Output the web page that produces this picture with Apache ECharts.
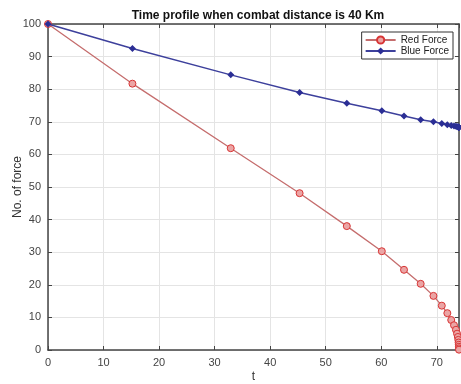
<!DOCTYPE html>
<html>
<head>
<meta charset="utf-8">
<script src="https://cdn.jsdelivr.net/npm/echarts@6/dist/echarts.min.js"></script>
<style>
  html, body { margin: 0; padding: 0; background: #fff; }
  #chart { width: 461px; height: 384px; }
</style>
</head>
<body>
<div id="chart"></div>
<script>
// time steps (solver output), shared by both forces
var tValues = [0, 15.2, 32.9, 45.3, 53.8, 60.1, 64.1, 67.1, 69.4, 70.9, 71.9, 72.6, 73.1, 73.45,
  73.65, 73.8, 73.88, 73.93, 73.96, 73.98, 73.99, 74.0];
var redForce = [100, 81.7, 61.9, 48.1, 38.0, 30.3, 24.6, 20.3, 16.6, 13.6, 11.3, 9.2, 7.6, 6.2,
  5.0, 4.0, 3.1, 2.3, 1.6, 1.0, 0.5, 0.1];
var blueForce = [100, 92.5, 84.4, 79.0, 75.7, 73.4, 71.8, 70.6, 70.0, 69.5, 69.1, 68.9, 68.7, 68.6,
  68.5, 68.45, 68.4, 68.35, 68.32, 68.3, 68.28, 68.27];
var seriesNames = ['Red Force', 'Blue Force'];

function pairs(xs, ys) {
  var out = [];
  for (var i = 0; i < xs.length; i++) out.push([xs[i], ys[i]]);
  return out;
}

var chart = echarts.init(document.getElementById('chart'));
var axisCol = '#444';
var labelStyle = { color: '#444', fontSize: 11, fontFamily: 'Liberation Sans, Arial' };

var option = {
  animation: false,
  backgroundColor: '#fff',
  title: {
    text: 'Time profile when combat distance is 40 Km',
    left: 253, top: 5, textAlign: 'center',
    textStyle: { fontSize: 12, fontWeight: 'bold', color: '#111', fontFamily: 'Liberation Sans, Arial' }
  },
  legend: {
    data: seriesNames,
    orient: 'vertical',
    right: 8, top: 32,
    padding: [3, 4, 3, 3],
    itemGap: 1,
    itemWidth: 30, itemHeight: 9,
    borderColor: '#333', borderWidth: 1,
    backgroundColor: '#fff',
    textStyle: { fontSize: 10, color: '#222', fontFamily: 'Liberation Sans, Arial' }
  },
  grid: { left: 48, right: 2, top: 24, bottom: 34, outerBoundsMode: 'none', containLabel: false },
  xAxis: [{
    type: 'value', min: 0, max: 74, interval: 10,
    name: 't', nameLocation: 'middle', nameGap: 21, nameMoveOverlap: false,
    nameTextStyle: { fontSize: 12, color: '#333', fontFamily: 'Liberation Sans, Arial' },
    axisLine: { lineStyle: { color: axisCol, width: 1.5 } },
    axisTick: { inside: true, length: 4, lineStyle: { color: axisCol } },
    axisLabel: Object.assign({ margin: 7, showMaxLabel: false }, labelStyle),
    splitLine: { show: true, lineStyle: { color: '#e4e4e4' } }
  }, {
    type: 'value', position: 'top', min: 0, max: 74, interval: 10,
    axisLine: { show: true, onZero: false, lineStyle: { color: axisCol, width: 1.5 } },
    axisTick: { inside: true, length: 4, lineStyle: { color: axisCol } },
    axisLabel: { show: false }, splitLine: { show: false }
  }],
  yAxis: [{
    type: 'value', min: 0, max: 100, interval: 10,
    name: 'No. of force', nameLocation: 'middle', nameGap: 24, nameMoveOverlap: false,
    nameTextStyle: { fontSize: 12, color: '#333', fontFamily: 'Liberation Sans, Arial' },
    axisLine: { show: true, lineStyle: { color: axisCol, width: 1.5 } },
    axisTick: { show: true, inside: true, length: 4, lineStyle: { color: axisCol } },
    axisLabel: Object.assign({ margin: 7 }, labelStyle),
    splitLine: { show: true, lineStyle: { color: '#e4e4e4' } }
  }, {
    type: 'value', position: 'right', min: 0, max: 100, interval: 10,
    axisLine: { show: true, onZero: false, lineStyle: { color: axisCol, width: 1.5 } },
    axisTick: { show: true, inside: true, length: 4, lineStyle: { color: axisCol } },
    axisLabel: { show: false }, splitLine: { show: false }
  }],
  series: [{
    name: seriesNames[0], type: 'line',
    data: pairs(tValues, redForce),
    symbol: 'circle', symbolSize: 7,
    lineStyle: { color: '#c56d6d', width: 1.3 },
    itemStyle: { color: '#eba5a5', borderColor: '#d83535', borderWidth: 1 },
    z: 3
  }, {
    name: seriesNames[1], type: 'line',
    data: pairs(tValues, blueForce),
    symbol: 'diamond', symbolSize: 7,
    lineStyle: { color: '#3d409c', width: 1.5 },
    itemStyle: { color: '#2b2e95', borderWidth: 0 },
    z: 4
  }]
};

chart.setOption(option);
</script>
</body>
</html>
